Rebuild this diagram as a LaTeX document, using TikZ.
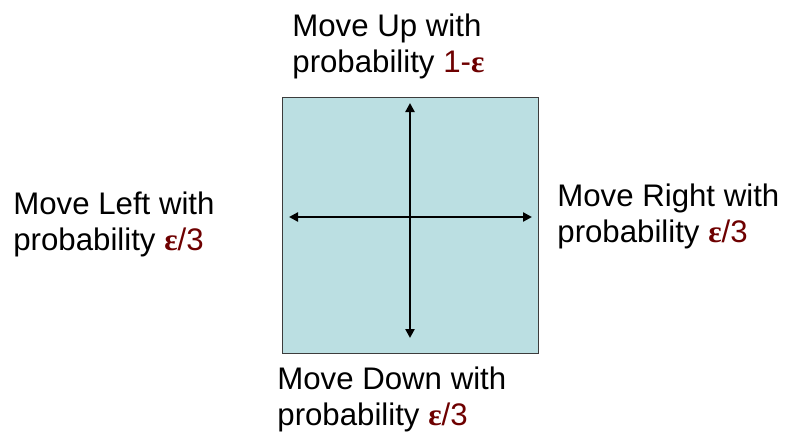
\documentclass[tikz,border=0pt]{standalone}
\usepackage{fontspec}
\setmainfont{Liberation Sans}
\newfontfamily\grec{Liberation Serif}
\usetikzlibrary{arrows.meta}
\definecolor{bleuclair}{RGB}{187,223,226}
\definecolor{bordure}{RGB}{60,60,60}
\definecolor{rouge}{RGB}{110,0,0}
\newcommand{\eps}{{\grec\bfseries ε}}
\tikzset{
  >={Triangle[length=4.5pt,width=4.5pt]},
  case/.style={draw=bordure, fill=bleuclair, line width=0.5pt, minimum size=128pt, inner sep=0pt},
  etiquette/.style={align=left, inner sep=0pt, anchor=base west,
    font=\fontsize{15.6}{18}\selectfont},
  fleche/.style={<->, line width=1.4pt, draw=black},
}
\begin{document}
\begin{tikzpicture}[x=0.5pt, y=-0.5pt]
    \useasboundingbox (0,0) rectangle (786,434);
    % Case
    \node[case] (case) at (410,225) {};
    % Extremites des fleches
    \coordinate (gauche) at (289,217);
    \coordinate (droite) at (532,217);
    \coordinate (haut)   at (410,103);
    \coordinate (bas)    at (410,338);
    \draw[fleche] (gauche) -- (droite);
    \draw[fleche] (haut) -- (bas);
    % Etiquettes
    \node[etiquette] (txthaut)   at (292,72)  {Move Up with\\ probability \textcolor{rouge}{1-\eps}};
    \node[etiquette] (txtgauche) at (13,250)  {Move Left with\\ probability \textcolor{rouge}{\eps/3}};
    \node[etiquette] (txtdroite) at (557,242) {Move Right with\\ probability \textcolor{rouge}{\eps/3}};
    \node[etiquette] (txtbas)    at (277,425) {Move Down with\\ probability \textcolor{rouge}{\eps/3}};
  \end{tikzpicture}
\end{document}
